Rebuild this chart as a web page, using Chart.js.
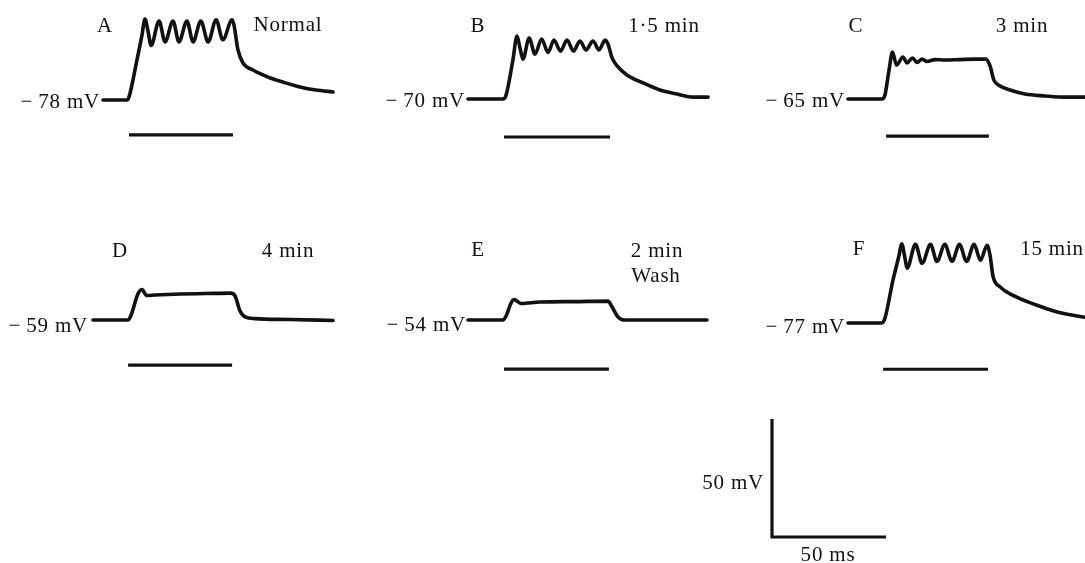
<!DOCTYPE html>
<html>
<head>
<meta charset="utf-8">
<script src="https://cdn.jsdelivr.net/npm/chart.js@4"></script>
<style>
  html, body { margin: 0; padding: 0; background: #fff; }
  #stage { position: relative; width: 1085px; height: 563px; overflow: hidden; background: #fff; }
  .panel { position: absolute; }
  .lbl { position: absolute; font-family: "Liberation Serif", "DejaVu Serif", serif; font-size: 21px; letter-spacing: 0.8px; color: #111; white-space: nowrap; line-height: 1; }
</style>
</head>
<body>
<div id="stage"></div>
<script>
// ---------- DATA (time in ms from trace start, membrane potential in mV) ----------
const panelNames = ['A', 'B', 'C', 'D', 'E', 'F'];
const conditionLabels = ['Normal', '1·5 min', '3 min', '4 min', '2 min', '15 min'];
const conditionSubLabels = ['', '', '', '', 'Wash', ''];
const restPotentials = [-78, -70, -65, -59, -54, -77];
const restLabels = ['−\u200978 mV', '−\u200970 mV', '−\u200965 mV', '−\u200959 mV', '−\u200954 mV', '−\u200977 mV'];

const tA = [0, 10.5, 11.4, 14.9, 17.1, 18.4, 19.7, 21.1, 24.6, 27.2, 30.7, 33.3, 36.8, 39.5, 42.9, 46.1, 49.6, 52.6, 56.6, 57.5, 59.2, 61.4, 65.8, 72.4, 78.9, 86.4, 93.4, 100.9];
const vA = [-78, -78, -76.7, -61, -50.5, -43.7, -48.6, -54.9, -44.5, -53.4, -44.5, -53.4, -44.5, -53.4, -44.5, -53.4, -44, -52.5, -44, -46.5, -56.8, -62.3, -65.3, -68.3, -70.4, -72.5, -73.8, -74.6];

const tB = [0, 15.4, 16.7, 19.7, 21.5, 22.8, 24.1, 26.8, 29.4, 32.3, 35.1, 37.7, 40.6, 43.4, 46.3, 49.1, 51.8, 54.8, 57.5, 60.1, 61.4, 63.2, 65.4, 69.7, 76.8, 84.2, 91.7, 98.7, 105.3];
const vB = [-70, -70, -68.3, -53.5, -43.3, -48.4, -53.1, -44.2, -51, -44.6, -50.3, -45, -49.7, -45, -49.7, -45.4, -49.2, -45.4, -49.2, -45, -46.7, -52.6, -56, -59.8, -63.2, -66.2, -67.9, -69.2, -69.2];

const tC = [0, 14.9, 16.2, 18, 19.5, 21.3, 24.1, 25.9, 28.3, 30.3, 32.5, 34.6, 38.2, 42.5, 49.1, 55.7, 60.5, 62.3, 64, 66.7, 71.1, 77.6, 86.4, 95.2, 104];
const vC = [-65, -65, -63.3, -52.7, -45.1, -50.6, -47.2, -49.7, -47.6, -49.5, -48.1, -49.1, -48.3, -48.5, -48.3, -48.1, -48.1, -51, -57, -59.5, -61.2, -62.9, -63.7, -64.2, -64.2];

const tD = [0, 15.4, 16.7, 19.7, 21.5, 23.5, 27.2, 38.2, 49.1, 60.5, 62.3, 64.5, 66.7, 71.1, 86.4, 105.3];
const vD = [-59, -59, -56.9, -48, -46.1, -48.6, -48.4, -48, -47.8, -47.6, -48.8, -55.2, -57.7, -58.4, -58.8, -59.2];

const tE = [0, 15.4, 16.7, 18.9, 20.2, 23.2, 31.6, 46.9, 61.4, 63.2, 65.8, 68.9, 86.4, 104.8];
const vE = [-54, -54, -52.3, -46.8, -45.3, -47, -46.4, -46.2, -46, -48.5, -52.7, -54, -54, -54];

const tF = [0, 14.9, 16.2, 19.7, 22.4, 23.5, 25, 25.9, 29.6, 32.5, 36.2, 39, 42.5, 45.6, 48.9, 52, 55.3, 58.1, 61, 62.3, 63.6, 66.7, 72.4, 82.9, 89.9, 97.4, 104];
const vF = [-77, -77, -75, -58.9, -48.3, -43.4, -49.6, -53.8, -43.7, -51.7, -43.7, -50.9, -43.7, -50.9, -43.7, -50.9, -43.7, -50.4, -44.1, -48.3, -57.2, -61.7, -65.3, -69.5, -71.8, -73.5, -74.6];

// stimulus bars: start / end (ms) and the level (mV on the panel scale) where the marker is drawn
const stimStart = [11.4, 15.8, 16.7, 15.4, 15.8, 15.4];
const stimEnd = [57.0, 62.3, 61.8, 61.0, 61.8, 61.4];
const stimLevel = [-92.8, -86.1, -80.7, -78.1, -74.8, -96.6];

// calibration bars
const calTime = [0, 0, 50];      // ms
const calVolt = [50, 0, 0];      // mV
const calLabels = ['50 mV', '50 ms'];

const traceTimes = [tA, tB, tC, tD, tE, tF];
const traceVolts = [vA, vB, vC, vD, vE, vF];

// ---------- LAYOUT (pixels) ----------
const PX_PER_MS = 2.28;
const PX_PER_MV = 2.36;
const origins = [[103, 100], [468, 99], [848, 99], [93, 320], [468, 320], [848, 323]]; // trace start / resting level
const padLeft = 10, padRight = 250, padTop = 110, padBottom = 60;

const panelText = [
  { name: [105, 25], cond: [288, 24], rest: [100, 101] },
  { name: [478, 25], cond: [664, 25], rest: [465, 100] },
  { name: [856, 25], cond: [1022, 25], rest: [845, 100] },
  { name: [120, 250], cond: [288, 250], rest: [88, 325] },
  { name: [478, 249], cond: [657, 250], sub: [656, 275], rest: [466, 324] },
  { name: [859, 248], cond: [1052, 248], rest: [845, 326] }
];

const stage = document.getElementById('stage');
const INK = '#111';

function addLabel(text, x, y, align) {
  const d = document.createElement('div');
  d.className = 'lbl';
  d.textContent = text;
  d.style.left = x + 'px';
  d.style.top = y + 'px';
  d.style.transform = align === 'right' ? 'translate(-100%, -50%)' : 'translate(-50%, -50%)';
  stage.appendChild(d);
}

function makeChart(left, top, w, h, datasets, xmin, xmax, ymin, ymax) {
  const wrap = document.createElement('div');
  wrap.className = 'panel';
  wrap.style.left = left + 'px';
  wrap.style.top = top + 'px';
  wrap.style.width = w + 'px';
  wrap.style.height = h + 'px';
  const cv = document.createElement('canvas');
  cv.width = w; cv.height = h;
  wrap.appendChild(cv);
  stage.appendChild(wrap);
  new Chart(cv, {
    type: 'scatter',
    data: { datasets },
    options: {
      responsive: false,
      animation: false,
      devicePixelRatio: 1,
      layout: { padding: 0 },
      plugins: { legend: { display: false }, tooltip: { enabled: false } },
      scales: {
        x: { type: 'linear', display: false, min: xmin, max: xmax },
        y: { type: 'linear', display: false, min: ymin, max: ymax }
      }
    }
  });
}

panelNames.forEach((name, i) => {
  const [ox, oy] = origins[i];
  const w = padLeft + padRight, h = padTop + padBottom;
  const rest = restPotentials[i];
  const trace = traceTimes[i].map((t, k) => ({ x: t, y: traceVolts[i][k] }));
  const stim = [{ x: stimStart[i], y: stimLevel[i] }, { x: stimEnd[i], y: stimLevel[i] }];
  makeChart(ox - padLeft, oy - padTop, w, h, [
    { data: trace, showLine: true, borderColor: INK, borderWidth: 3.6, pointRadius: 0,
      cubicInterpolationMode: 'monotone', borderJoinStyle: 'round', borderCapStyle: 'round', clip: false },
    { data: stim, showLine: true, borderColor: INK, borderWidth: 3.2, pointRadius: 0, clip: false }
  ], -padLeft / PX_PER_MS, padRight / PX_PER_MS, rest - padBottom / PX_PER_MV, rest + padTop / PX_PER_MV);

  const pt = panelText[i];
  addLabel(name, pt.name[0], pt.name[1], 'center');
  addLabel(conditionLabels[i], pt.cond[0], pt.cond[1], 'center');
  if (conditionSubLabels[i]) addLabel(conditionSubLabels[i], pt.sub[0], pt.sub[1], 'center');
  addLabel(restLabels[i], pt.rest[0], pt.rest[1], 'right');
});

// calibration bars
(function () {
  const ox = 772, oy = 537, pad = 10;
  const w = 124 + pad, h = 129 + pad;
  const cal = calTime.map((t, k) => ({ x: t, y: calVolt[k] }));
  makeChart(ox - pad, oy - 129, w, h, [
    { data: cal, showLine: true, borderColor: INK, borderWidth: 3.2, pointRadius: 0, tension: 0, clip: false }
  ], -pad / PX_PER_MS, 124 / PX_PER_MS, -pad / PX_PER_MV, 129 / PX_PER_MV);
  addLabel(calLabels[0], 764, 482, 'right');
  addLabel(calLabels[1], 828, 554, 'center');
})();
</script>
</body>
</html>
